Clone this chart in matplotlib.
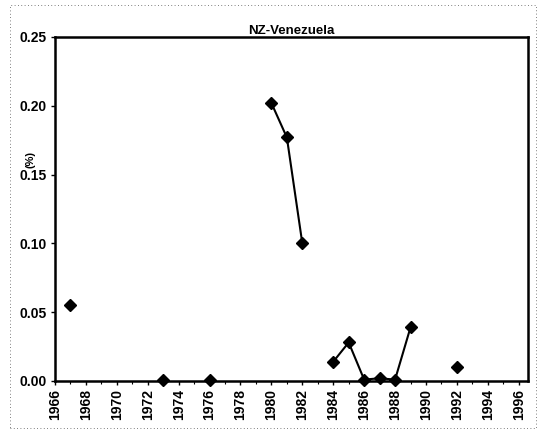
import numpy as np
import matplotlib
matplotlib.use("Agg")
import matplotlib.pyplot as plt
from matplotlib.patches import Rectangle

plt.rcParams['font.family'] = ['Liberation Sans', 'DejaVu Sans']

years = list(range(1966, 1997))
values = {
    1967: 0.055,
    1973: 0.001,
    1976: 0.001,
    1980: 0.202,
    1981: 0.177,
    1982: 0.100,
    1984: 0.014,
    1985: 0.028,
    1986: 0.001,
    1987: 0.002,
    1988: 0.001,
    1989: 0.039,
    1992: 0.010,
}
series = [values.get(y, np.nan) for y in years]
tick_years = list(range(1966, 1997, 2))
y_ticks = [0.00, 0.05, 0.10, 0.15, 0.20, 0.25]
title = "NZ-Venezuela"
ylabel = "(%)"

fig = plt.figure(figsize=(5.41, 4.30), dpi=100)
ax = fig.add_axes([55/541, 1-381/430, (528-55)/541, (381-37)/430])

ax.plot(years, series, color='black', lw=1.5, marker='D', markersize=6.5,
        markerfacecolor='black', markeredgecolor='black', clip_on=False, zorder=5)

ax.set_xlim(1966, 1996.6)
ax.set_ylim(0, 0.25)
ax.set_xticks(tick_years)
ax.set_xticklabels([str(y) for y in tick_years], rotation=90, fontsize=10, fontweight='bold')
ax.set_xticks(years, minor=True)
ax.set_yticks(y_ticks)
ax.set_yticklabels([f"{v:.2f}" for v in y_ticks], fontsize=10, fontweight='bold')
ax.tick_params(axis='both', which='major', direction='out', length=3, width=1, pad=3)
ax.tick_params(axis='x', which='minor', direction='out', length=2, width=0.8)
for s in ax.spines.values():
    s.set_linewidth(1.8)
ax.set_title(title, fontsize=9.5, fontweight='bold', pad=2)
fig.text(31/541, 1-160/430, ylabel, rotation=90, fontsize=8, fontweight='bold',
         ha='center', va='center')

fig.patches.append(Rectangle((10/541, 0.005), 526/541, 1-5/430-0.005, transform=fig.transFigure,
                             fill=False, ls=(0, (1, 3)), lw=0.6, edgecolor='#555555'))

fig.savefig("out.png", dpi=100)
